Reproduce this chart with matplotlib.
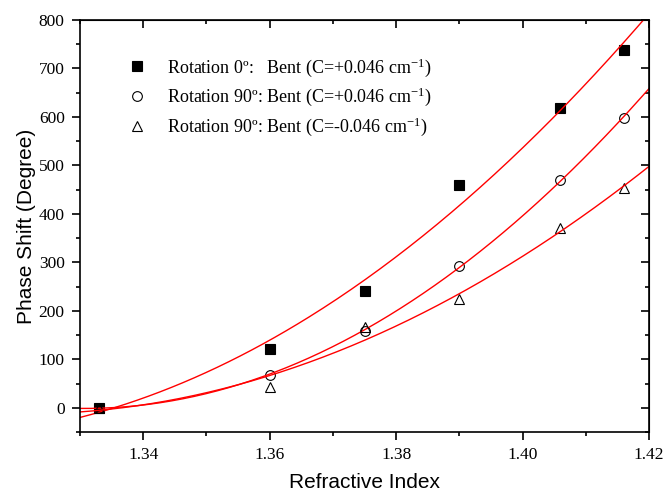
import numpy as np
import matplotlib
matplotlib.use("Agg")
import matplotlib.pyplot as plt
from matplotlib.ticker import MultipleLocator

plt.rcParams['mathtext.fontset'] = 'custom'
plt.rcParams['mathtext.rm'] = 'Liberation Serif'
plt.rcParams['mathtext.it'] = 'Liberation Serif:italic'

# data
ri = [1.333, 1.36, 1.375, 1.39, 1.406, 1.416]
rot0_pos = [0, 122, 240, 460, 618, 738]
rot90_pos = [0, 68, 158, 293, 470, 598]
rot90_neg = [0, 42, 167, 225, 370, 453]

labels = [r"Rotation 0º:   Bent (C=+0.046 cm$^{\mathrm{-1}}$)",
          r"Rotation 90º: Bent (C=+0.046 cm$^{\mathrm{-1}}$)",
          r"Rotation 90º: Bent (C=-0.046 cm$^{\mathrm{-1}}$)"]

fig = plt.figure(figsize=(6.63, 4.96), dpi=100)
ax = fig.add_axes([80/663, (496-432)/496, (649-80)/663, (432-20)/496])

xf = np.linspace(1.33, 1.42, 200)
series = [(rot0_pos, dict(marker='s', color='black', markerfacecolor='black', markersize=7)),
          (rot90_pos, dict(marker='o', color='black', markerfacecolor='none', markersize=7)),
          (rot90_neg, dict(marker='^', color='black', markerfacecolor='none', markersize=7))]

for (ys, st), lab in zip(series, labels):
    ax.plot(ri, ys, linestyle='none', label=lab, markeredgewidth=0.8, **st)
    c = np.polyfit(ri, ys, 2)
    ax.plot(xf, np.polyval(c, xf), color='red', lw=1)

ax.set_xlim(1.33, 1.42)
ax.set_ylim(-50, 800)
ax.xaxis.set_minor_locator(MultipleLocator(0.01))
ax.yaxis.set_major_locator(MultipleLocator(100))
ax.yaxis.set_minor_locator(MultipleLocator(50))
ax.tick_params(which='both', direction='out', top=False, right=False, width=1.2)
ax.tick_params(which='major', length=6, labelsize=12, pad=5)
ax.tick_params(which='minor', length=3)
ax.set_xticks([1.34, 1.36, 1.38, 1.40, 1.42])
ax.set_xticklabels(['1.34', '1.36', '1.38', '1.40', '1.42'])
for lab in ax.get_xticklabels() + ax.get_yticklabels():
    lab.set_fontfamily('Liberation Serif')
    lab.set_fontsize(12.5)

# inward ticks on top and right
axt = ax.secondary_xaxis('top')
axt.xaxis.set_major_locator(MultipleLocator(0.02))
axt.xaxis.set_minor_locator(MultipleLocator(0.01))
axt.tick_params(which='both', direction='in', labeltop=False, width=1.2)
axt.tick_params(which='major', length=6)
axt.tick_params(which='minor', length=3)
axr = ax.secondary_yaxis('right')
axr.yaxis.set_major_locator(MultipleLocator(100))
axr.yaxis.set_minor_locator(MultipleLocator(50))
axr.tick_params(which='both', direction='in', labelright=False, width=1.2)
axr.tick_params(which='major', length=6)
axr.tick_params(which='minor', length=3)

for s in ax.spines.values():
    s.set_linewidth(1.2)

ax.set_xlabel('Refractive Index', fontfamily='Liberation Sans', fontsize=15, labelpad=7)
ax.set_ylabel('Phase Shift (Degree)', fontfamily='Liberation Sans', fontsize=15, labelpad=2)

ax.legend(loc='upper left', bbox_to_anchor=(0.064, 0.93), frameon=False,
          prop={'family': 'Liberation Serif', 'size': 13}, handletextpad=0.9,
          handlelength=1.5, labelspacing=0.4, borderaxespad=0)

fig.savefig('out.png', dpi=100)
